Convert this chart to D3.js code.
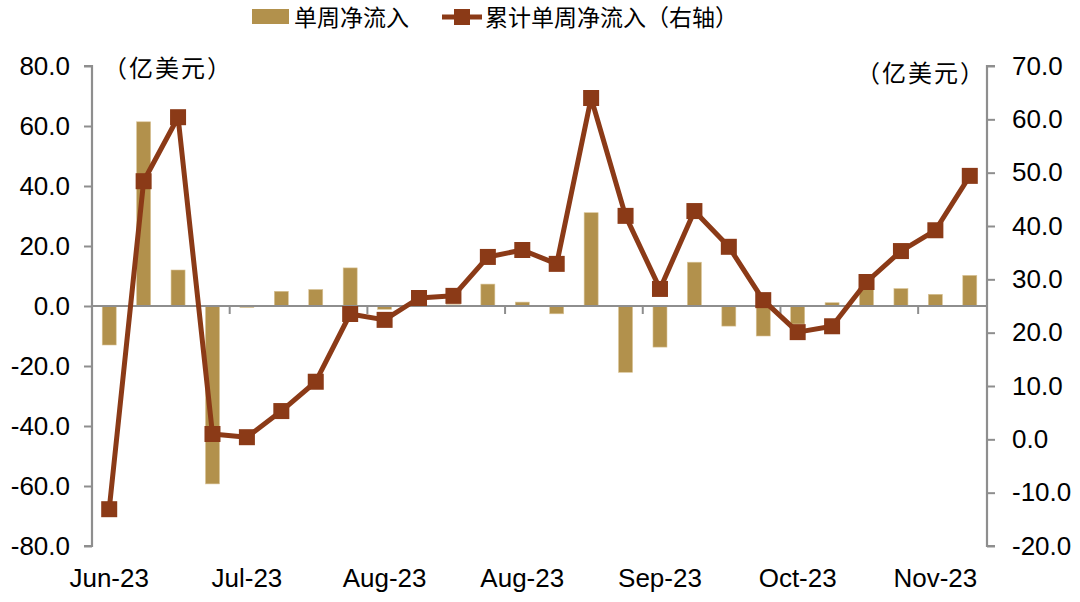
<!DOCTYPE html>
<html>
<head>
<meta charset="utf-8">
<script src="https://cdn.jsdelivr.net/npm/d3@7/dist/d3.min.js"></script>
<style>
  html, body { margin: 0; padding: 0; background: #fff; }
  svg { display: block; }
  .num { font-family: "Liberation Sans", Arial, sans-serif; font-size: 26px; fill: #000; }
  .cjk { font-family: "Noto Sans CJK SC", sans-serif; font-size: 23px; fill: #000; }
  .unit { font-family: "Noto Sans CJK SC", sans-serif; font-size: 24px; letter-spacing: 2px; fill: #000; }
</style>
</head>
<body>
<svg id="chart" width="1080" height="602"></svg>
<script>
// ---- data ----
const categories = ["W01","W02","W03","W04","W05","W06","W07","W08","W09","W10","W11","W12","W13",
                    "W14","W15","W16","W17","W18","W19","W20","W21","W22","W23","W24","W25","W26"];
const weeklyFlow = [-13.0, 61.4, 12.0, -59.3, -0.5, 4.9, 5.5, 12.7, -1.1, 4.1, 0.4, 7.3, 1.3,
                    -2.6, 31.1, -22.1, -13.7, 14.6, -6.7, -10.0, -6.0, 1.1, 8.3, 5.8, 3.9, 10.2];
const cumulativeFlow = [-13.1, 48.4, 60.4, 1.0, 0.4, 5.3, 10.8, 23.5, 22.4, 26.5, 26.9, 34.2, 35.5,
                        32.9, 64.0, 41.9, 28.2, 42.8, 36.1, 26.1, 20.1, 21.2, 29.5, 35.3, 39.2, 49.4];
const xTickLabels = ["Jun-23","Jul-23","Aug-23","Aug-23","Sep-23","Oct-23","Nov-23"];
const xTickIndex = [0, 4, 8, 12, 16, 20, 24];
const leftTicks = [-80, -60, -40, -20, 0, 20, 40, 60, 80];
const rightTicks = [-20, -10, 0, 10, 20, 30, 40, 50, 60, 70];
const seriesNames = ["单周净流入", "累计单周净流入（右轴）"];
const unitLabel = "（亿美元）";

// ---- layout ----
const svg = d3.select("#chart");
const L = 92, R = 987, T = 66, B = 546;
const barColor = "#B2914C", lineColor = "#8B3A17", axisColor = "#8E8E8E";

const x = d3.scaleBand().domain(categories).range([L, R]).padding(0);
const yL = d3.scaleLinear().domain([-80, 80]).range([B, T]);
const yR = d3.scaleLinear().domain([-20, 70]).range([B, T]);
const bw = 14;
const cx = c => x(c) + x.bandwidth() / 2;
const fmt = d => d.toFixed(1);

// bars
svg.append("g").selectAll("rect").data(weeklyFlow).join("rect")
  .attr("x", (d, i) => cx(categories[i]) - bw / 2)
  .attr("width", bw)
  .attr("y", d => yL(Math.max(0, d)))
  .attr("height", d => Math.abs(yL(d) - yL(0)))
  .attr("fill", barColor)
  .attr("stroke", "#D9C496").attr("stroke-width", 0.6);

// zero line
svg.append("line").attr("x1", L).attr("x2", R).attr("y1", yL(0)).attr("y2", yL(0))
  .attr("stroke", axisColor).attr("stroke-width", 2.2);

// x ticks at category boundaries
svg.append("g").selectAll("line").data(xTickIndex.slice(1)).join("line")
  .attr("x1", i => x(categories[i])).attr("x2", i => x(categories[i]))
  .attr("y1", yL(0)).attr("y2", yL(0) + 8)
  .attr("stroke", axisColor).attr("stroke-width", 2);

// left axis
const axL = svg.append("g").attr("transform", `translate(${L},0)`)
  .call(d3.axisLeft(yL).tickValues(leftTicks).tickSize(8).tickPadding(14).tickFormat(fmt));
axL.select(".domain").attr("stroke", axisColor).attr("stroke-width", 2.2).attr("d", `M-8,${T}H0V${B}H-8`);
axL.selectAll(".tick line").attr("stroke", axisColor).attr("stroke-width", 2);
axL.selectAll(".tick text").attr("class", "num").attr("font-size", null).attr("font-family", null).attr("fill", "#000");

// right axis
const axR = svg.append("g").attr("transform", `translate(${R},0)`)
  .call(d3.axisRight(yR).tickValues(rightTicks).tickSize(8).tickPadding(17).tickFormat(fmt));
axR.select(".domain").attr("stroke", axisColor).attr("stroke-width", 2.2).attr("d", `M8,${T}H0V${B}H8`);
axR.selectAll(".tick line").attr("stroke", axisColor).attr("stroke-width", 2);
axR.selectAll(".tick text").attr("class", "num").attr("font-size", null).attr("font-family", null).attr("fill", "#000");

// x labels
svg.append("g").selectAll("text").data(xTickIndex).join("text")
  .attr("class", "num")
  .attr("x", i => cx(categories[i])).attr("y", 587)
  .attr("text-anchor", "middle")
  .text((d, k) => xTickLabels[k]);

// cumulative line
const line = d3.line().x((d, i) => cx(categories[i])).y(d => yR(d));
svg.append("path").datum(cumulativeFlow).attr("d", line)
  .attr("fill", "none").attr("stroke", lineColor).attr("stroke-width", 5).attr("stroke-linejoin", "round");
const ms = 16;
svg.append("g").selectAll("rect").data(cumulativeFlow).join("rect")
  .attr("x", (d, i) => cx(categories[i]) - ms / 2).attr("y", d => yR(d) - ms / 2)
  .attr("width", ms).attr("height", ms).attr("fill", lineColor);

// unit labels
svg.append("text").attr("class", "unit").attr("x", 103).attr("y", 77).text(unitLabel);
svg.append("text").attr("class", "unit").attr("x", 986).attr("y", 82).attr("text-anchor", "end").text(unitLabel);

// legend
const lg = svg.append("g");
lg.append("rect").attr("x", 252).attr("y", 9).attr("width", 37).attr("height", 15).attr("fill", barColor);
lg.append("text").attr("class", "cjk").attr("x", 294).attr("y", 26).text(seriesNames[0]);
lg.append("line").attr("x1", 442).attr("x2", 482).attr("y1", 17).attr("y2", 17)
  .attr("stroke", lineColor).attr("stroke-width", 5);
lg.append("rect").attr("x", 454).attr("y", 9).attr("width", 16).attr("height", 16).attr("fill", lineColor);
lg.append("text").attr("class", "cjk").attr("x", 485).attr("y", 26).text(seriesNames[1]);
</script>
</body>
</html>
